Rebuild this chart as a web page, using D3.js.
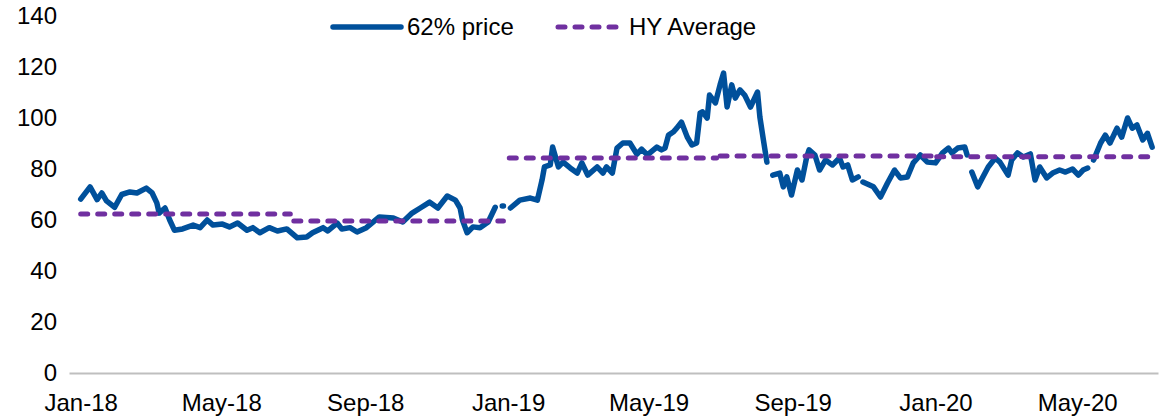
<!DOCTYPE html>
<html>
<head>
<meta charset="utf-8">
<script src="https://cdn.jsdelivr.net/npm/d3@7"></script>
<style>
  body { margin: 0; background: #fff; }
  svg text { font-family: Arial, "Liberation Sans", sans-serif; fill: #000; }
</style>
</head>
<body>
<svg id="chart"></svg>
<script>
// 62% price, roughly weekly reads off the chart (null = gap in the data)
const dates = [
  "2018-01-01","2018-01-09","2018-01-15","2018-01-19","2018-01-23","2018-01-30","2018-02-05","2018-02-12","2018-02-18","2018-02-26",
  "2018-03-03","2018-03-07","2018-03-09","2018-03-14","2018-03-18","2018-03-22","2018-03-29","2018-04-07","2018-04-13","2018-04-19",
  "2018-04-24","2018-05-02","2018-05-08","2018-05-15","2018-05-23","2018-05-28","2018-06-03","2018-06-11","2018-06-18","2018-06-26",
  "2018-07-05","2018-07-13","2018-07-18","2018-07-27","2018-07-31","2018-08-08","2018-08-12","2018-08-19","2018-08-25","2018-09-02",
  "2018-09-13","2018-09-25","2018-10-03","2018-10-11","2018-10-18","2018-10-26","2018-11-02","2018-11-10","2018-11-17","2018-11-21",
  "2018-11-23","2018-11-27","2018-12-02","2018-12-08","2018-12-15","2018-12-21","2018-12-24","2018-12-27","2018-12-28","2018-12-31",
  "2019-01-03","2019-01-11","2019-01-20","2019-01-26","2019-01-30","2019-02-01","2019-02-06","2019-02-08","2019-02-13","2019-02-17",
  "2019-02-23","2019-03-01","2019-03-05","2019-03-10","2019-03-18","2019-03-23","2019-03-26","2019-03-31","2019-04-04","2019-04-09",
  "2019-04-15","2019-04-21","2019-04-25","2019-04-30","2019-05-08","2019-05-12","2019-05-15","2019-05-18","2019-05-22","2019-05-25",
  "2019-05-29","2019-06-03","2019-06-07","2019-06-11","2019-06-14","2019-06-16","2019-06-20","2019-06-22","2019-06-27","2019-07-01",
  "2019-07-04","2019-07-07","2019-07-11","2019-07-14","2019-07-18","2019-07-22","2019-07-27","2019-08-02","2019-08-04","2019-08-07",
  "2019-08-10","2019-08-12","2019-08-15","2019-08-21","2019-08-24","2019-08-27","2019-08-31","2019-09-05","2019-09-09","2019-09-13",
  "2019-09-15","2019-09-20","2019-09-24","2019-09-29","2019-10-05","2019-10-11","2019-10-14","2019-10-18","2019-10-22","2019-10-27",
  "2019-10-29","2019-10-31","2019-11-09","2019-11-15","2019-11-21","2019-11-27","2019-12-02","2019-12-08","2019-12-13","2019-12-19",
  "2019-12-25","2020-01-01","2020-01-07","2020-01-12","2020-01-15","2020-01-20","2020-01-26","2020-01-28","2020-01-30","2020-02-01",
  "2020-02-06","2020-02-10","2020-02-15","2020-02-21","2020-02-25","2020-03-03","2020-03-06","2020-03-11","2020-03-16","2020-03-22",
  "2020-03-26","2020-03-30","2020-04-05","2020-04-10","2020-04-16","2020-04-21","2020-04-27","2020-05-02","2020-05-06","2020-05-10",
  "2020-05-12","2020-05-15","2020-05-21","2020-05-25","2020-05-29","2020-06-04","2020-06-08","2020-06-13","2020-06-17","2020-06-21",
  "2020-06-26","2020-06-30","2020-07-04"
];
const price = [
  68.2, 73, 68, 70.6, 67.5, 65, 70, 71, 70.6, 72.5,
  70.6, 66.7, 62.7, 64.7, 60, 56, 56.5, 58, 57, 60,
  58, 58.4, 57.3, 58.8, 56, 57, 55, 57, 55.7, 56.5,
  53, 53.3, 55, 57, 55.7, 58.8, 56.5, 57, 55.3, 57,
  61.2, 60.8, 59.2, 62.7, 64.7, 67, 64.7, 69.4, 67.8, 64.7,
  60, 55, 57.3, 57, 59.2, 65, null, 65.5, 65.5, null,
  64.7, 67.8, 68.6, 67.8, 75.7, 80.8, 81.6, 88.6, 80.8, 82.7,
  80.4, 78.4, 82.4, 77.6, 80.8, 78.4, 80.8, 78.4, 88.2, 90.2,
  90.2, 85.8, 87.8, 85.5, 88.6, 87.5, 88.2, 93.3, 94.5, 96,
  98.4, 92.5, 89.4, 90.2, 102, 102.4, 100, 109, 105.9, 113,
  117.6, 104.3, 113, 107.8, 111, 109, 104.3, 110.2, 100.4, 91.4,
  82.7, null, 77.6, 78.4, 73, 76.9, 69.8, 79.6, 75.7, 84.7,
  87.5, 85.5, 79.6, 83.5, 81.6, 84.3, 80.8, 81.6, 75.7, 76.9,
  null, 74.9, 73, 69, 74.5, 79.6, 76.5, 76.9, 82.4, 85.5,
  82.7, 82.4, 86.3, 88.2, 86.3, 88.2, 88.6, 85.5, null, 78.8,
  73, 76.5, 80.8, 84.3, 82.7, 77.6, 83.5, 86.3, 84.7, 85.9,
  75.7, 80.8, 76.5, 78.4, 79.6, 78.8, 80, 77.6, 79.6, 80.4,
  null, 83.5, 90.2, 93.3, 90.2, 96, 92.5, 100, 96, 97.3,
  91.4, 94, 88.6
];

// half-year averages
const hyStart = ["2018-01-01", "2018-07-02", "2019-01-02", "2019-07-01", "2020-01-02"];
const hyEnd   = ["2018-06-29", "2018-12-28", "2019-06-28", "2019-12-31", "2020-07-04"];
const hyAvg   = [62.4, 59.6, 84.3, 85.1, 84.8];

const yTicks = [0, 20, 40, 60, 80, 100, 120, 140];
const seriesNames = ["62% price", "HY Average"];

const W = 1165, H = 419;
const blue = "#00509B", purple = "#7030A0";
const parse = d3.timeParse("%Y-%m-%d");

const svg = d3.select("#chart").attr("width", W).attr("height", H);

const x = d3.scaleTime()
    .domain([parse("2017-12-22"), parse("2020-07-09")])
    .range([69, 1158]);

const y = d3.scaleLinear()
    .domain([0, 140])
    .range([373, 16]);

// y axis: labels only
const yAxis = svg.append("g")
    .attr("transform", "translate(60,0)")
    .call(d3.axisLeft(y).tickValues(yTicks).tickSize(0).tickPadding(3));
yAxis.select(".domain").remove();
yAxis.selectAll("text").attr("font-size", 24).style("font-family", "Arial, 'Liberation Sans', sans-serif");

// x axis
const xAxis = svg.append("g")
    .attr("transform", "translate(0," + y(0) + ")")
    .call(d3.axisBottom(x)
        .ticks(d3.timeMonth.every(4))
        .tickFormat(d3.timeFormat("%b-%y"))
        .tickSize(0)
        .tickPadding(21));
xAxis.select(".domain").attr("stroke", "#BFBFBF").attr("stroke-width", 1.8);
xAxis.selectAll("text").attr("font-size", 24).style("font-family", "Arial, 'Liberation Sans', sans-serif");

// price line
const priceData = dates.map((d, i) => ({date: parse(d), v: price[i]}));

const line = d3.line()
    .defined(d => d.v != null)
    .x(d => x(d.date))
    .y(d => y(d.v));

svg.append("path")
    .datum(priceData)
    .attr("fill", "none")
    .attr("stroke", blue)
    .attr("stroke-width", 5.5)
    .attr("stroke-linejoin", "round")
    .attr("stroke-linecap", "round")
    .attr("d", line);

// HY average dashes
const hyData = hyAvg.map((v, i) => [
    {date: parse(hyStart[i]), v: v},
    {date: parse(hyEnd[i]), v: v}
]);

svg.selectAll("path.hy")
    .data(hyData)
    .enter().append("path")
    .attr("class", "hy")
    .attr("fill", "none")
    .attr("stroke", purple)
    .attr("stroke-width", 5)
    .attr("stroke-linecap", "round")
    .attr("stroke-dasharray", "7,10")
    .attr("d", line);

// legend
const legend = svg.append("g");
const legendItems = [
    {name: seriesNames[0], x0: 333, x1: 401, color: blue, dash: null, w: 5.5},
    {name: seriesNames[1], x0: 558, x1: 623, color: purple, dash: "7,10", w: 5}
];
legendItems.forEach(d => {
    legend.append("line")
        .attr("x1", d.x0).attr("x2", d.x1)
        .attr("y1", 27).attr("y2", 27)
        .attr("stroke", d.color)
        .attr("stroke-width", d.w)
        .attr("stroke-linecap", "round")
        .attr("stroke-dasharray", d.dash);
    legend.append("text")
        .attr("x", d.x1 + 6)
        .attr("y", 27)
        .attr("dy", "0.35em")
        .attr("font-size", 24)
        .text(d.name);
});
</script>
</body>
</html>
